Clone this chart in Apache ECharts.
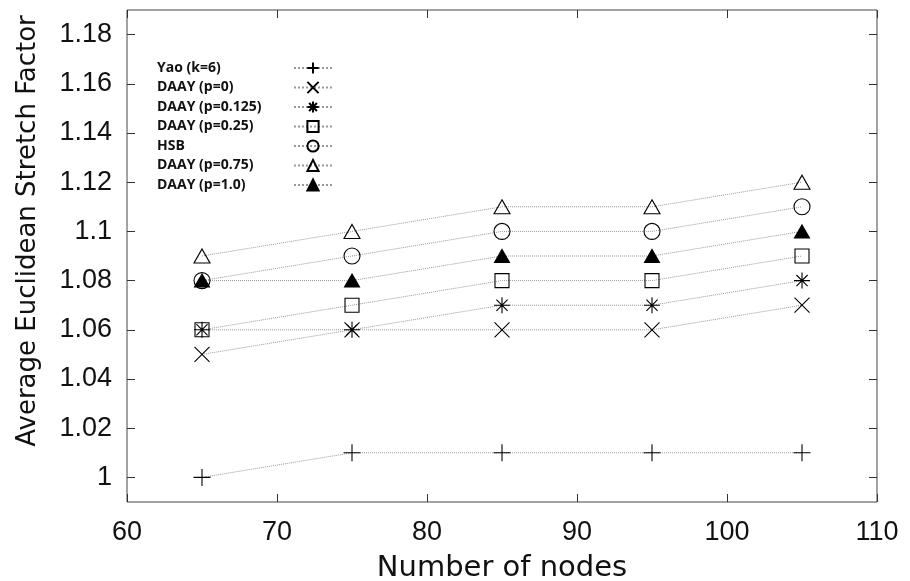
<!DOCTYPE html>
<html>
<head>
<meta charset="utf-8">
<script src="https://cdn.jsdelivr.net/npm/echarts@6/dist/echarts.min.js"></script>
<style>html,body{margin:0;padding:0;background:#fff;}#c{width:910px;height:581px;}</style>
</head>
<body>
<div id="c"></div>
<script>
const nodes = [65, 75, 85, 95, 105];
const seriesNames = ['Yao (k=6)', 'DAAY (p=0)', 'DAAY (p=0.125)', 'DAAY (p=0.25)', 'HSB', 'DAAY (p=0.75)', 'DAAY (p=1.0)'];
const yao = [1.00, 1.01, 1.01, 1.01, 1.01];
const daay0 = [1.05, 1.06, 1.06, 1.06, 1.07];
const daay0125 = [1.06, 1.06, 1.07, 1.07, 1.08];
const daay025 = [1.06, 1.07, 1.08, 1.08, 1.09];
const hsb = [1.08, 1.09, 1.10, 1.10, 1.11];
const daay075 = [1.09, 1.10, 1.11, 1.11, 1.12];
const daay1 = [1.08, 1.08, 1.09, 1.09, 1.10];
const yTicks = [1.00, 1.02, 1.04, 1.06, 1.08, 1.10, 1.12, 1.14, 1.16, 1.18];

const values = [yao, daay0, daay0125, daay025, hsb, daay075, daay1];
const symbols = [
  'path://M0,5L10,5M5,0L5,10',
  'path://M0,0L10,10M10,0L0,10',
  'path://M0,5L10,5M5,0L5,10M1.5,1.5L8.5,8.5M8.5,1.5L1.5,8.5',
  'rect', 'circle', 'triangle', 'triangle'
];
const sizes = [17, 15, 16, 14, 16, [16, 14], [15, 13]];
const fills = ['#000', '#000', '#000', 'rgba(255,255,255,0)', 'rgba(255,255,255,0)', 'rgba(255,255,255,0)', '#000'];

const chart = echarts.init(document.getElementById('c'), null, {renderer: 'canvas'});
const tickFont = 'Liberation Sans, Arial, sans-serif';
const series = values.map((v, i) => ({
  name: seriesNames[i],
  type: 'line',
  data: nodes.map((x, j) => [x, v[j]]),
  symbol: symbols[i],
  symbolSize: sizes[i],
  showAllSymbol: true,
  lineStyle: {color: '#999', width: 1, type: 'dotted'},
  itemStyle: {color: fills[i], borderColor: '#000', borderWidth: 1.1},
  emphasis: {disabled: true},
  z: 3
}));

chart.setOption({
  animation: false,
  backgroundColor: '#fff',
  grid: {left: 127, right: 33, top: 10, bottom: 79, outerBoundsMode: 'none', containLabel: false,
    show: true, borderColor: '#444', borderWidth: 1, backgroundColor: 'transparent'},
  legend: {
    orient: 'vertical', left: 152, top: 56, align: 'right', itemGap: 5.5,
    itemWidth: 38, itemHeight: 14,
    data: seriesNames,
    formatter: '{a|{name}}',
    textStyle: {fontFamily: 'Open Sans, sans-serif', fontWeight: 'bold', fontSize: 14, color: '#111',
      rich: {a: {width: 132, align: 'left', fontFamily: 'Open Sans, sans-serif', fontWeight: 'bold', fontSize: 14, color: '#111', lineHeight: 14}}},
    selectedMode: false
  },
  xAxis: [{
    type: 'value', min: 60, max: 110, interval: 10, position: 'bottom',
    name: 'Number of nodes', nameLocation: 'middle', nameGap: 52,
    nameTextStyle: {fontFamily: 'DejaVu Sans, sans-serif', fontSize: 29, color: '#111'},
    axisLine: {show: false}, splitLine: {show: false},
    axisTick: {inside: true, length: 8, lineStyle: {color: '#333'}},
    axisLabel: {margin: 17, fontFamily: tickFont, fontSize: 27, color: '#111'}
  }, {
    type: 'value', min: 60, max: 110, interval: 10, position: 'top',
    axisLine: {show: false}, splitLine: {show: false},
    axisTick: {inside: true, length: 8, lineStyle: {color: '#333'}},
    axisLabel: {show: false}
  }],
  yAxis: [{
    type: 'value', min: 0.99, max: 1.19, position: 'left',
    name: 'Average Euclidean Stretch Factor', nameLocation: 'middle', nameGap: 86,
    nameTextStyle: {fontFamily: 'DejaVu Sans, sans-serif', fontSize: 26, color: '#111', padding: [0, 0, 0, 50]},
    axisLine: {show: false}, splitLine: {show: false},
    axisTick: {inside: true, length: 8, customValues: yTicks, lineStyle: {color: '#333'}},
    axisLabel: {margin: 15, customValues: yTicks, fontFamily: tickFont, fontSize: 27, color: '#111',
      formatter: v => String(parseFloat(Number(v).toFixed(2)))}
  }, {
    type: 'value', min: 0.99, max: 1.19, position: 'right',
    axisLine: {show: false}, splitLine: {show: false},
    axisTick: {inside: true, length: 8, customValues: yTicks, lineStyle: {color: '#333'}},
    axisLabel: {show: false}
  }],
  series: series
});
</script>
</body>
</html>
